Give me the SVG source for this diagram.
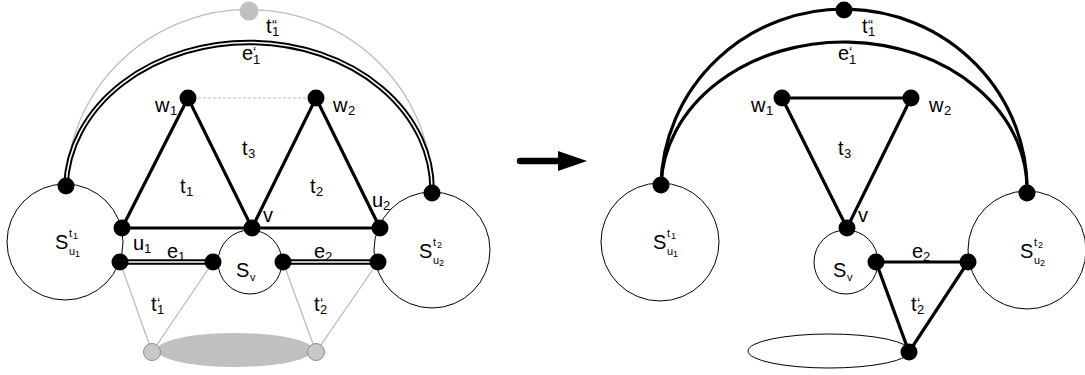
<svg xmlns="http://www.w3.org/2000/svg" width="1085" height="375" viewBox="0 0 1085 375">
<defs>
<style>
text{font-family:"Liberation Sans",Arial,sans-serif;font-size:20px;fill:#000}
.s{font-size:13px}
.q{font-size:15px}
.ss{font-size:11px}
.sss{font-size:9px}
.thick{stroke:#000;stroke-width:3.2;fill:none}
.dbl{stroke:#000;stroke-width:5.5;fill:none}
.dblw{stroke:#fff;stroke-width:1.6;fill:none}
.grey{stroke:#bdbdbd;stroke-width:1.3;fill:none}
.ring{stroke:#000;stroke-width:1;fill:#fff}
.dot{fill:#000}
.gdot{fill:#c8c8c8;stroke:#8c8c8c;stroke-width:1}
</style>
</defs>
<rect width="1085" height="375" fill="#fff"/>

<!-- LEFT: rings -->
<g id="S_u1_left"><circle class="ring" cx="65" cy="242" r="58"/><text x="55" y="249">S<tspan class="ss" x="69" y="237">t</tspan><tspan class="sss" x="73" y="239">1</tspan><tspan class="ss" x="69" y="255">u</tspan><tspan class="sss" x="75" y="257">1</tspan></text></g>
<g id="S_u2_left"><circle class="ring" cx="432" cy="250" r="58"/><text x="419" y="258">S<tspan class="ss" x="433" y="246">t</tspan><tspan class="sss" x="437" y="248">2</tspan><tspan class="ss" x="433" y="264">u</tspan><tspan class="sss" x="439" y="266">2</tspan></text></g>
<g id="S_v_left"><circle class="ring" cx="250" cy="262" r="32"/><text x="236" y="277">S<tspan class="ss" x="250" y="281">v</tspan></text></g>
<ellipse id="grey_ellipse" cx="235" cy="350" rx="78" ry="17" fill="#c0c0c0"/>

<!-- LEFT connectors -->
<g id="connectors_left">
<path class="grey" d="M66,186 A183,180 0 0 1 432,193"/>
<path class="dbl" d="M66,186 A183,147 0 0 1 432,193"/>
<path class="dblw" d="M66,186 A183,147 0 0 1 432,193"/>
<line x1="188" y1="98" x2="316" y2="98" stroke="#bdbdbd" stroke-width="1.2" stroke-dasharray="3,2"/>
<polyline class="thick" points="122,228 188,98 252,228 316,98 380,228"/>
<line class="thick" x1="122" y1="228" x2="380" y2="228"/>
<line class="dbl" x1="120" y1="262" x2="213" y2="262"/><line class="dblw" x1="120" y1="262" x2="213" y2="262"/>
<line class="dbl" x1="283" y1="262" x2="378" y2="262"/><line class="dblw" x1="283" y1="262" x2="378" y2="262"/>
<polyline class="grey" points="120,262 152,352 213,262"/>
<polyline class="grey" points="283,262 316,352 378,262"/>
</g>

<!-- LEFT nodes -->
<g id="top_grey"><circle cx="249" cy="11" r="9.5" fill="#c0c0c0"/></g>
<g id="a1"><circle class="dot" cx="66" cy="186" r="8.5"/></g>
<g id="a2"><circle class="dot" cx="432" cy="193" r="8.5"/></g>
<g id="w1"><circle class="dot" cx="188" cy="98" r="8.5"/></g>
<g id="w2"><circle class="dot" cx="316" cy="98" r="8.5"/></g>
<g id="u1"><circle class="dot" cx="122" cy="228" r="8.5"/></g>
<g id="v"><circle class="dot" cx="252" cy="228" r="8.5"/></g>
<g id="u2"><circle class="dot" cx="380" cy="228" r="8.5"/></g>
<g id="e1a"><circle class="dot" cx="120" cy="262" r="8.5"/></g>
<g id="e1b"><circle class="dot" cx="213" cy="262" r="8.5"/></g>
<g id="e2a"><circle class="dot" cx="283" cy="262" r="8.5"/></g>
<g id="e2b"><circle class="dot" cx="378" cy="262" r="8.5"/></g>
<g id="g1"><circle class="gdot" cx="152" cy="352" r="8.5"/></g>
<g id="g2"><circle class="gdot" cx="316" cy="352" r="8.5"/></g>

<!-- LEFT labels -->
<g id="labels_left">
<text x="266" y="33">t<tspan class="s" x="272" y="36">1</tspan><tspan class="q" x="272" y="30">“</tspan></text>
<text x="242" y="60">e<tspan class="s" x="253" y="64">1</tspan><tspan class="q" x="253" y="57">‘</tspan></text>
<text x="155" y="112">w<tspan class="s" x="170" y="115">1</tspan></text>
<text x="333" y="112">w<tspan class="s" x="348" y="115">2</tspan></text>
<text x="242" y="155">t<tspan class="s" x="248" y="158">3</tspan></text>
<text x="180" y="193">t<tspan class="s" x="186" y="196">1</tspan></text>
<text x="310" y="193">t<tspan class="s" x="316" y="196">2</tspan></text>
<text x="263" y="222">v</text>
<text x="372" y="207">u<tspan class="s" x="383" y="210">2</tspan></text>
<text x="133" y="250">u<tspan class="s" x="144" y="253">1</tspan></text>
<text x="167" y="258">e<tspan class="s" x="178" y="261">1</tspan></text>
<text x="314" y="258">e<tspan class="s" x="325" y="261">2</tspan></text>
<text x="151" y="311">t<tspan class="s" x="157" y="314">1</tspan><tspan class="q" x="157" y="308">‘</tspan></text>
<text x="314" y="311">t<tspan class="s" x="320" y="314">2</tspan><tspan class="q" x="320" y="308">‘</tspan></text>
</g>

<!-- Arrow -->
<g id="arrow"><line x1="520" y1="161" x2="562" y2="161" stroke="#000" stroke-width="6.5" stroke-linecap="round"/><polygon points="558,151 587,161 558,171" fill="#000"/></g>

<!-- RIGHT rings -->
<g id="S_u1_right"><circle class="ring" cx="660" cy="242" r="59"/><text x="653" y="249">S<tspan class="ss" x="667" y="237">t</tspan><tspan class="sss" x="671" y="239">1</tspan><tspan class="ss" x="667" y="255">u</tspan><tspan class="sss" x="673" y="257">1</tspan></text></g>
<g id="S_u2_right"><circle class="ring" cx="1027" cy="250" r="59"/><text x="1020" y="258">S<tspan class="ss" x="1034" y="246">t</tspan><tspan class="sss" x="1038" y="248">2</tspan><tspan class="ss" x="1034" y="264">u</tspan><tspan class="sss" x="1040" y="266">2</tspan></text></g>
<g id="S_v_right"><circle class="ring" cx="846" cy="262" r="32"/><text x="833" y="277">S<tspan class="ss" x="847" y="281">v</tspan></text></g>
<ellipse id="white_ellipse" cx="829" cy="351" rx="81" ry="17" fill="#fff" stroke="#000" stroke-width="1"/>

<!-- RIGHT connectors -->
<g id="connectors_right">
<path class="thick" d="M661,185 A183,180 0 0 1 1027,193"/>
<path class="thick" d="M661,185 A183,147 0 0 1 1027,193"/>
<polygon class="thick" points="782,98 911,98 847,228"/>
<polygon class="thick" points="876,262 968,262 909,352"/>
</g>

<!-- RIGHT nodes -->
<g id="r_top"><circle class="dot" cx="844" cy="10" r="8.5"/></g>
<g id="r_a1"><circle class="dot" cx="661" cy="185" r="8.5"/></g>
<g id="r_a2"><circle class="dot" cx="1027" cy="193" r="8.5"/></g>
<g id="r_w1"><circle class="dot" cx="782" cy="98" r="8.5"/></g>
<g id="r_w2"><circle class="dot" cx="911" cy="98" r="8.5"/></g>
<g id="r_v"><circle class="dot" cx="847" cy="228" r="8.5"/></g>
<g id="r_e2a"><circle class="dot" cx="876" cy="262" r="8.5"/></g>
<g id="r_e2b"><circle class="dot" cx="968" cy="262" r="8.5"/></g>
<g id="r_bottom"><circle class="dot" cx="909" cy="352" r="8.5"/></g>

<!-- RIGHT labels -->
<g id="labels_right">
<text x="862" y="33">t<tspan class="s" x="868" y="36">1</tspan><tspan class="q" x="868" y="30">“</tspan></text>
<text x="838" y="60">e<tspan class="s" x="849" y="64">1</tspan><tspan class="q" x="849" y="57">‘</tspan></text>
<text x="751" y="112">w<tspan class="s" x="766" y="115">1</tspan></text>
<text x="929" y="112">w<tspan class="s" x="944" y="115">2</tspan></text>
<text x="838" y="155">t<tspan class="s" x="844" y="158">3</tspan></text>
<text x="858" y="222">v</text>
<text x="912" y="258">e<tspan class="s" x="923" y="261">2</tspan></text>
<text x="911" y="311">t<tspan class="s" x="917" y="314">2</tspan><tspan class="q" x="917" y="308">‘</tspan></text>
</g>
</svg>
